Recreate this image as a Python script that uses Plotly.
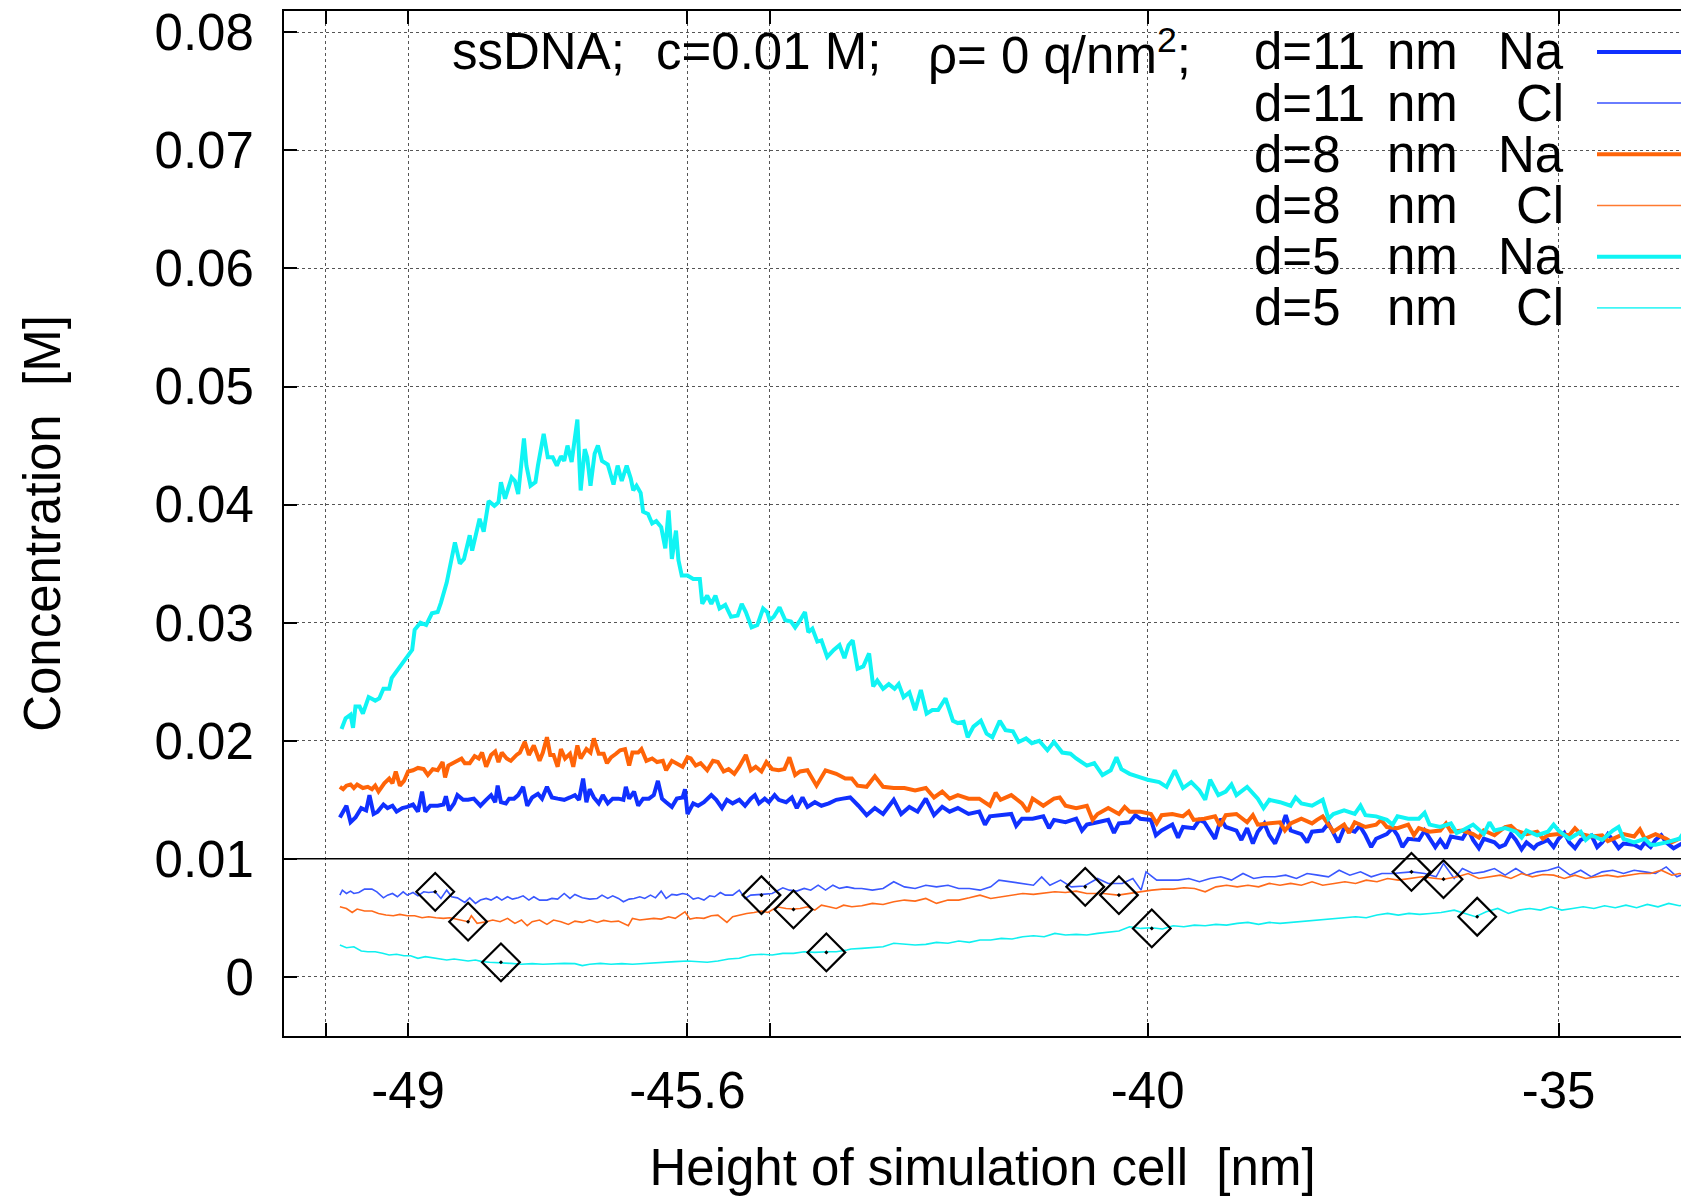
import plotly.graph_objects as go

# ---------------- data ----------------
d11_na = [(-49.83,.0135),(-49.79,.0140),(-49.75,.0145),(-49.70,.0131),(-49.64,.0135),(-49.57,.0143),(-49.51,.0141),(-49.47,.0154),(-49.42,.0138),(-49.37,.0140),(-49.30,.0146),(-49.25,.0143),(-49.19,.0145),(-49.14,.0140),(-49.07,.0143),(-49.01,.0144),(-48.94,.0146),(-48.88,.0140),(-48.83,.0157),(-48.79,.0140),(-48.73,.0145),(-48.64,.0145),(-48.57,.0146),(-48.54,.0153),(-48.50,.0141),(-48.44,.0147),(-48.40,.0154),(-48.33,.0150),(-48.27,.0150),(-48.20,.0151),(-48.16,.0148),(-48.12,.0145),(-48.05,.0150),(-47.99,.0154),(-47.94,.0148),(-47.91,.0162),(-47.87,.0148),(-47.81,.0147),(-47.77,.0151),(-47.71,.0151),(-47.66,.0154),(-47.60,.0161),(-47.55,.0145),(-47.49,.0152),(-47.42,.0155),(-47.37,.0151),(-47.31,.0161),(-47.25,.0152),(-47.18,.0151),(-47.10,.0150),(-47.03,.0152),(-46.97,.0154),(-46.92,.0150),(-46.87,.0168),(-46.83,.0148),(-46.79,.0159),(-46.74,.0152),(-46.68,.0147),(-46.63,.0154),(-46.57,.0147),(-46.51,.0151),(-46.44,.0151),(-46.38,.0150),(-46.35,.0161),(-46.31,.0151),(-46.25,.0157),(-46.20,.0145),(-46.14,.0151),(-46.07,.0151),(-46.01,.0154),(-45.96,.0166),(-45.91,.0151),(-45.86,.0148),(-45.79,.0144),(-45.73,.0151),(-45.66,.0152),(-45.63,.0159),(-45.60,.0138),(-45.53,.0147),(-45.47,.0145),(-45.40,.0148),(-45.31,.0154),(-45.25,.0150),(-45.18,.0143),(-45.12,.0150),(-45.05,.0147),(-44.97,.0150),(-44.90,.0145),(-44.83,.0151),(-44.78,.0154),(-44.73,.0147),(-44.66,.0151),(-44.61,.0148),(-44.54,.0154),(-44.49,.0150),(-44.40,.0148),(-44.33,.0152),(-44.27,.0143),(-44.20,.0152),(-44.14,.0144),(-44.05,.0148),(-43.97,.0145),(-43.88,.0147),(-43.79,.0150),(-43.71,.0151),(-43.62,.0152),(-43.52,.0145),(-43.42,.0137),(-43.32,.0143),(-43.22,.0138),(-43.09,.0150),(-43.00,.0138),(-42.90,.0144),(-42.80,.0140),(-42.70,.0151),(-42.60,.0137),(-42.50,.0144),(-42.41,.0140),(-42.31,.0143),(-42.18,.0138),(-42.05,.0140),(-41.98,.0129),(-41.92,.0136),(-41.79,.0137),(-41.66,.0138),(-41.60,.0128),(-41.53,.0134),(-41.40,.0134),(-41.27,.0136),(-41.20,.0126),(-41.14,.0133),(-41.00,.0131),(-40.87,.0134),(-40.80,.0124),(-40.74,.0129),(-40.61,.0131),(-40.48,.0133),(-40.41,.0122),(-40.35,.0130),(-40.22,.0131),(-40.15,.0137),(-40.09,.0134),(-39.96,.0133),(-39.90,.0120),(-39.83,.0124),(-39.70,.0129),(-39.63,.0118),(-39.57,.0127),(-39.44,.0126),(-39.37,.0133),(-39.31,.0131),(-39.18,.0117),(-39.11,.0134),(-39.05,.0127),(-38.92,.0124),(-38.86,.0116),(-38.79,.0126),(-38.72,.0113),(-38.66,.0123),(-38.58,.0130),(-38.52,.0120),(-38.45,.0113),(-38.39,.0123),(-38.32,.0137),(-38.26,.0124),(-38.13,.0121),(-38.06,.0114),(-38.00,.0123),(-37.87,.0124),(-37.80,.0130),(-37.74,.0121),(-37.68,.0114),(-37.61,.0126),(-37.48,.0123),(-37.42,.0128),(-37.35,.0120),(-37.28,.0110),(-37.22,.0117),(-37.09,.0121),(-37.02,.0126),(-36.96,.0120),(-36.90,.0110),(-36.83,.0117),(-36.70,.0116),(-36.63,.0124),(-36.57,.0117),(-36.50,.0110),(-36.44,.0116),(-36.37,.0109),(-36.31,.0119),(-36.17,.0117),(-36.10,.0125),(-36.04,.0116),(-35.97,.0109),(-35.91,.0117),(-35.78,.0114),(-35.72,.0110),(-35.65,.0112),(-35.58,.0121),(-35.52,.0116),(-35.45,.0108),(-35.39,.0114),(-35.30,.0109),(-35.26,.0112),(-35.13,.0116),(-35.06,.0110),(-35.00,.0117),(-34.93,.0122),(-34.87,.0114),(-34.80,.0109),(-34.73,.0116),(-34.60,.0120),(-34.53,.0110),(-34.47,.0114),(-34.40,.0121),(-34.34,.0116),(-34.27,.0109),(-34.21,.0113),(-34.08,.0112),(-34.00,.0109),(-33.95,.0114),(-33.88,.0110),(-33.82,.0116),(-33.75,.0120),(-33.69,.0114),(-33.60,.0109),(-33.53,.0112),(-33.45,.0115)]

d11_cl = [(-49.83,.00693),(-49.80,.00735),(-49.75,.00707),(-49.70,.00727),(-49.66,.00707),(-49.60,.00715),(-49.53,.00744),(-49.44,.00744),(-49.38,.00721),(-49.30,.0067),(-49.25,.00693),(-49.19,.00707),(-49.13,.00679),(-49.06,.00721),(-49.01,.00693),(-48.94,.00715),(-48.88,.00687),(-48.81,.00721),(-48.75,.00715),(-48.67,.00721),(-48.60,.00665),(-48.53,.00735),(-48.47,.00679),(-48.40,.0067),(-48.31,.00631),(-48.25,.0067),(-48.18,.00623),(-48.12,.00651),(-48.05,.00665),(-47.99,.00651),(-47.92,.00679),(-47.86,.00651),(-47.79,.00679),(-47.73,.00659),(-47.66,.0067),(-47.60,.00687),(-47.53,.00651),(-47.47,.00679),(-47.40,.00651),(-47.31,.00651),(-47.25,.00665),(-47.18,.00659),(-47.10,.00707),(-47.03,.00665),(-46.97,.00699),(-46.88,.0067),(-46.79,.00659),(-46.70,.00665),(-46.64,.00693),(-46.57,.00665),(-46.51,.00687),(-46.44,.00665),(-46.38,.00637),(-46.31,.00659),(-46.25,.00665),(-46.18,.00679),(-46.12,.00665),(-46.05,.00693),(-45.99,.0067),(-45.92,.00727),(-45.86,.00665),(-45.79,.00699),(-45.73,.00693),(-45.66,.00707),(-45.60,.00699),(-45.53,.00659),(-45.47,.0067),(-45.40,.00651),(-45.33,.00687),(-45.27,.00679),(-45.20,.00715),(-45.14,.00693),(-45.05,.00693),(-44.97,.00735),(-44.90,.00665),(-44.83,.00693),(-44.70,.00699),(-44.57,.00707),(-44.44,.00755),(-44.36,.00735),(-44.27,.00727),(-44.18,.0075),(-44.10,.00735),(-44.01,.00777),(-43.92,.00735),(-43.83,.00777),(-43.75,.0075),(-43.66,.00763),(-43.57,.0075),(-43.48,.00749),(-43.35,.00735),(-43.22,.00749),(-43.09,.00806),(-42.96,.00763),(-42.83,.00749),(-42.70,.00777),(-42.57,.00763),(-42.43,.00777),(-42.30,.00749),(-42.17,.00749),(-42.04,.00735),(-41.91,.00763),(-41.81,.0082),(-41.65,.00806),(-41.52,.00792),(-41.39,.00777),(-41.29,.00848),(-41.19,.00777),(-41.06,.0082),(-40.93,.00763),(-40.77,.00770),(-40.61,.00834),(-40.48,.00792),(-40.31,.00792),(-40.18,.00834),(-40.08,.00735),(-40.02,.0089),(-39.89,.0082),(-39.76,.0082),(-39.63,.0082),(-39.50,.00834),(-39.37,.00806),(-39.24,.00834),(-39.11,.00848),(-38.98,.0082),(-38.84,.00876),(-38.71,.00834),(-38.58,.00848),(-38.45,.00848),(-38.32,.00862),(-38.19,.00834),(-38.06,.00876),(-37.93,.00862),(-37.80,.00848),(-37.67,.00904),(-37.54,.00862),(-37.41,.0089),(-37.28,.00848),(-37.15,.00876),(-37.02,.00876),(-36.79,.0089),(-36.63,.00876),(-36.49,.00848),(-36.40,.00961),(-36.27,.00834),(-36.17,.00918),(-36.04,.00876),(-35.91,.0089),(-35.78,.00918),(-35.65,.00862),(-35.52,.00918),(-35.39,.00862),(-35.26,.0089),(-35.13,.00904),(-35.00,.00932),(-34.86,.00862),(-34.73,.00904),(-34.60,.00848),(-34.47,.0089),(-34.34,.00904),(-34.21,.00876),(-34.08,.00904),(-33.95,.0089),(-33.82,.00876),(-33.69,.00932),(-33.56,.00848),(-33.45,.0088)]

d8_na = [(-49.83,.0161),(-49.79,.0159),(-49.75,.0162),(-49.70,.0163),(-49.66,.0160),(-49.62,.0163),(-49.55,.0160),(-49.49,.0161),(-49.44,.0159),(-49.40,.0162),(-49.36,.0157),(-49.29,.0164),(-49.23,.0168),(-49.19,.0164),(-49.15,.0174),(-49.10,.0162),(-49.05,.0166),(-49.00,.0174),(-48.94,.0175),(-48.88,.0177),(-48.81,.0176),(-48.76,.0171),(-48.70,.0176),(-48.64,.0175),(-48.58,.0182),(-48.55,.0169),(-48.51,.0179),(-48.44,.0182),(-48.40,.0183),(-48.35,.0185),(-48.31,.0181),(-48.25,.0181),(-48.19,.0187),(-48.14,.0185),(-48.10,.0190),(-48.05,.0178),(-47.99,.0188),(-47.94,.0191),(-47.90,.0182),(-47.86,.0190),(-47.80,.0185),(-47.75,.0183),(-47.68,.0188),(-47.64,.0190),(-47.58,.0199),(-47.53,.0188),(-47.47,.0196),(-47.40,.0183),(-47.36,.0190),(-47.31,.0203),(-47.27,.0188),(-47.23,.0188),(-47.18,.0178),(-47.14,.0193),(-47.09,.0185),(-47.03,.0189),(-46.99,.0178),(-46.94,.0196),(-46.90,.0185),(-46.83,.0193),(-46.78,.0190),(-46.74,.0202),(-46.68,.0189),(-46.62,.0189),(-46.58,.0181),(-46.53,.0186),(-46.47,.0189),(-46.42,.0192),(-46.36,.0193),(-46.31,.0179),(-46.27,.0190),(-46.20,.0190),(-46.16,.0193),(-46.10,.0183),(-46.03,.0185),(-45.97,.0182),(-45.90,.0183),(-45.86,.0175),(-45.79,.0183),(-45.73,.0181),(-45.66,.0178),(-45.60,.0186),(-45.56,.0185),(-45.50,.0179),(-45.44,.0181),(-45.36,.0175),(-45.29,.0183),(-45.23,.0182),(-45.16,.0174),(-45.10,.0176),(-45.03,.0172),(-44.97,.0178),(-44.89,.0188),(-44.83,.0175),(-44.77,.0178),(-44.70,.0174),(-44.64,.0182),(-44.57,.0176),(-44.49,.0175),(-44.42,.0176),(-44.36,.0186),(-44.29,.0171),(-44.23,.0174),(-44.14,.0175),(-44.03,.0162),(-43.92,.0175),(-43.79,.0172),(-43.68,.0168),(-43.60,.0168),(-43.53,.0162),(-43.42,.0161),(-43.32,.0170),(-43.22,.0161),(-43.09,.0160),(-42.96,.0160),(-42.83,.0158),(-42.70,.0160),(-42.60,.0152),(-42.50,.0157),(-42.41,.0151),(-42.31,.0154),(-42.18,.0151),(-42.05,.0151),(-41.92,.0145),(-41.85,.0156),(-41.79,.0150),(-41.66,.0154),(-41.53,.0147),(-41.46,.0140),(-41.40,.0151),(-41.27,.0145),(-41.14,.0151),(-41.07,.0152),(-41.00,.0145),(-40.87,.0143),(-40.74,.0145),(-40.67,.0133),(-40.61,.0138),(-40.48,.0143),(-40.35,.0138),(-40.28,.0144),(-40.22,.0140),(-40.09,.0140),(-39.96,.0138),(-39.89,.0130),(-39.83,.0137),(-39.70,.0138),(-39.57,.0136),(-39.50,.0140),(-39.44,.0133),(-39.31,.0134),(-39.18,.0136),(-39.12,.0128),(-39.05,.0137),(-38.92,.0138),(-38.79,.0131),(-38.72,.0137),(-38.66,.0129),(-38.52,.0130),(-38.39,.0131),(-38.33,.0124),(-38.26,.0130),(-38.13,.0134),(-38.00,.0130),(-37.94,.0133),(-37.87,.0136),(-37.74,.0123),(-37.61,.0129),(-37.55,.0122),(-37.48,.0131),(-37.35,.0127),(-37.22,.0129),(-37.16,.0133),(-37.09,.0127),(-36.96,.0126),(-36.83,.0129),(-36.76,.0120),(-36.70,.0126),(-36.57,.0123),(-36.44,.0124),(-36.37,.0130),(-36.31,.0123),(-36.17,.0124),(-36.04,.0121),(-35.97,.0118),(-35.91,.0124),(-35.78,.0120),(-35.65,.0127),(-35.58,.0128),(-35.52,.0124),(-35.39,.0121),(-35.26,.0123),(-35.19,.0117),(-35.13,.0120),(-35.00,.0121),(-34.87,.0120),(-34.80,.0126),(-34.73,.0121),(-34.60,.0119),(-34.47,.0120),(-34.40,.0115),(-34.34,.0117),(-34.21,.0121),(-34.08,.0119),(-34.01,.0125),(-33.95,.0117),(-33.82,.0121),(-33.69,.0117),(-33.62,.0114),(-33.53,.0117),(-33.45,.0119)]

d8_cl = [(-49.83,.00594),(-49.75,.0058),(-49.68,.00546),(-49.62,.00575),(-49.53,.00558),(-49.44,.00558),(-49.36,.00538),(-49.27,.00524),(-49.18,.00518),(-49.10,.0053),(-49.01,.00518),(-48.92,.00518),(-48.83,.00501),(-48.75,.0051),(-48.66,.00501),(-48.57,.00496),(-48.49,.00501),(-48.38,.00482),(-48.27,.00468),(-48.23,.00518),(-48.16,.00454),(-48.05,.00468),(-47.97,.00482),(-47.88,.00468),(-47.79,.00496),(-47.70,.00454),(-47.62,.00482),(-47.55,.00434),(-47.49,.00468),(-47.40,.00482),(-47.31,.00445),(-47.23,.00482),(-47.14,.00468),(-47.05,.00445),(-46.97,.00473),(-46.88,.00462),(-46.79,.00482),(-46.70,.00462),(-46.62,.00479),(-46.53,.00468),(-46.44,.00473),(-46.32,.00434),(-46.27,.00496),(-46.18,.00482),(-46.10,.0049),(-46.01,.00496),(-45.92,.0049),(-45.83,.0051),(-45.75,.00496),(-45.68,.0053),(-45.63,.00552),(-45.57,.0049),(-45.49,.00501),(-45.40,.00496),(-45.31,.00518),(-45.23,.00524),(-45.12,.00462),(-45.05,.0051),(-44.97,.00524),(-44.88,.00538),(-44.79,.00546),(-44.70,.00558),(-44.62,.00546),(-44.51,.00594),(-44.40,.0058),(-44.31,.00575),(-44.23,.0058),(-44.14,.00594),(-44.05,.00566),(-43.97,.00608),(-43.88,.00594),(-43.79,.0058),(-43.70,.00608),(-43.60,.00594),(-43.48,.00603),(-43.35,.00623),(-43.22,.00614),(-43.09,.00637),(-42.96,.00651),(-42.83,.00642),(-42.70,.00665),(-42.57,.00623),(-42.43,.00651),(-42.30,.00651),(-42.17,.0067),(-42.04,.00693),(-41.91,.00665),(-41.78,.00679),(-41.65,.00693),(-41.52,.00707),(-41.39,.00699),(-41.26,.00707),(-41.13,.00721),(-41.00,.00715),(-40.87,.00727),(-40.74,.00707),(-40.54,.00707),(-40.36,.00693),(-40.22,.00707),(-40.08,.00727),(-39.95,.00735),(-39.82,.00744),(-39.69,.00744),(-39.56,.00755),(-39.43,.00749),(-39.30,.00721),(-39.17,.00763),(-39.04,.00777),(-38.91,.00763),(-38.78,.00777),(-38.65,.00763),(-38.52,.00792),(-38.39,.00777),(-38.26,.00792),(-38.13,.00777),(-38.00,.00806),(-37.87,.00777),(-37.73,.00792),(-37.60,.00806),(-37.47,.00792),(-37.34,.0082),(-37.21,.00806),(-37.08,.00834),(-36.95,.0082),(-36.82,.00834),(-36.66,.00848),(-36.49,.00834),(-36.40,.00828),(-36.23,.00848),(-36.10,.00876),(-35.97,.00834),(-35.84,.00848),(-35.71,.00862),(-35.58,.00834),(-35.45,.00876),(-35.32,.00848),(-35.19,.00868),(-35.06,.00862),(-34.93,.00834),(-34.80,.00862),(-34.67,.00834),(-34.54,.00848),(-34.41,.00862),(-34.28,.00848),(-34.14,.00862),(-34.01,.00876),(-33.88,.00876),(-33.75,.00904),(-33.62,.00862),(-33.53,.00876),(-33.45,.0087)]

d5_na = [(-49.81,.0210),(-49.76,.0219),(-49.70,.0222),(-49.67,.0211),(-49.64,.0229),(-49.59,.0229),(-49.55,.0223),(-49.48,.0237),(-49.40,.0234),(-49.35,.0236),(-49.30,.0244),(-49.23,.0244),(-49.20,.0253),(-49.13,.0260),(-49.06,.0267),(-48.99,.0274),(-48.95,.0277),(-48.92,.0294),(-48.85,.0300),(-48.78,.0298),(-48.71,.0308),(-48.64,.0309),(-48.60,.0317),(-48.53,.0334),(-48.46,.0357),(-48.43,.0368),(-48.37,.0350),(-48.32,.0354),(-48.25,.0374),(-48.22,.0361),(-48.13,.0388),(-48.08,.0377),(-48.02,.0403),(-47.95,.0399),(-47.90,.0402),(-47.87,.0419),(-47.82,.0405),(-47.74,.0423),(-47.70,.0420),(-47.66,.0409),(-47.59,.0456),(-47.56,.0433),(-47.51,.0416),(-47.45,.0419),(-47.42,.0433),(-47.35,.0460),(-47.30,.0440),(-47.24,.0440),(-47.19,.0433),(-47.14,.0441),(-47.10,.0437),(-47.06,.0450),(-47.01,.0436),(-46.94,.0472),(-46.90,.0412),(-46.85,.0447),(-46.82,.0440),(-46.78,.0416),(-46.73,.0443),(-46.69,.0450),(-46.64,.0437),(-46.57,.0434),(-46.50,.0417),(-46.45,.0433),(-46.40,.0420),(-46.34,.0433),(-46.29,.0422),(-46.26,.0412),(-46.22,.0416),(-46.17,.0410),(-46.14,.0394),(-46.08,.0392),(-46.03,.0384),(-45.98,.0386),(-45.92,.0381),(-45.87,.0363),(-45.83,.0395),(-45.79,.0354),(-45.74,.0378),(-45.71,.0353),(-45.67,.0340),(-45.60,.0340),(-45.53,.0337),(-45.45,.0337),(-45.42,.0316),(-45.36,.0323),(-45.31,.0316),(-45.26,.0323),(-45.21,.0312),(-45.14,.0315),(-45.07,.0305),(-44.99,.0306),(-44.94,.0316),(-44.89,.0309),(-44.82,.0296),(-44.75,.0298),(-44.68,.0312),(-44.63,.0309),(-44.60,.0302),(-44.55,.0305),(-44.48,.0313),(-44.41,.0302),(-44.34,.0301),(-44.29,.0296),(-44.23,.0302),(-44.17,.0309),(-44.13,.0292),(-44.08,.0295),(-44.02,.0284),(-43.97,.0285),(-43.90,.0271),(-43.82,.0277),(-43.75,.0281),(-43.69,.0270),(-43.64,.0281),(-43.59,.0285),(-43.53,.0261),(-43.46,.0263),(-43.39,.0274),(-43.34,.0246),(-43.29,.0251),(-43.22,.0244),(-43.15,.0248),(-43.08,.0244),(-43.03,.0248),(-42.97,.0237),(-42.90,.0241),(-42.83,.0226),(-42.76,.0243),(-42.69,.0223),(-42.62,.0226),(-42.55,.0226),(-42.46,.0236),(-42.37,.0217),(-42.31,.0215),(-42.24,.0216),(-42.19,.0203),(-42.12,.0212),(-42.03,.0217),(-41.96,.0206),(-41.89,.0203),(-41.80,.0217),(-41.73,.0209),(-41.64,.0208),(-41.57,.0199),(-41.48,.0202),(-41.41,.0198),(-41.32,.0200),(-41.22,.0192),(-41.14,.0199),(-41.04,.0190),(-40.94,.0189),(-40.87,.0185),(-40.74,.0179),(-40.65,.0181),(-40.55,.0171),(-40.45,.0175),(-40.38,.0186),(-40.32,.0176),(-40.22,.0172),(-40.09,.0169),(-40.00,.0167),(-39.86,.0165),(-39.77,.0161),(-39.67,.0175),(-39.57,.0160),(-39.47,.0165),(-39.37,.0158),(-39.30,.0150),(-39.24,.0167),(-39.14,.0154),(-39.05,.0157),(-38.98,.0163),(-38.92,.0154),(-38.79,.0161),(-38.66,.0151),(-38.59,.0143),(-38.52,.0150),(-38.39,.0148),(-38.26,.0145),(-38.20,.0152),(-38.13,.0147),(-38.00,.0145),(-37.87,.0150),(-37.80,.0134),(-37.74,.0138),(-37.61,.0141),(-37.48,.0138),(-37.41,.0145),(-37.35,.0137),(-37.22,.0136),(-37.09,.0133),(-37.02,.0129),(-36.96,.0136),(-36.83,.0134),(-36.70,.0134),(-36.63,.0139),(-36.57,.0129),(-36.44,.0127),(-36.31,.0130),(-36.24,.0122),(-36.17,.0124),(-36.04,.0129),(-35.91,.0121),(-35.84,.0131),(-35.78,.0124),(-35.65,.0126),(-35.52,.0123),(-35.45,.0118),(-35.39,.0124),(-35.26,.0120),(-35.13,.0123),(-35.06,.0129),(-35.00,.0124),(-34.87,.0117),(-34.73,.0123),(-34.67,.0116),(-34.60,.0120),(-34.47,.0116),(-34.34,.0124),(-34.27,.0127),(-34.21,.0117),(-34.08,.0114),(-33.95,.0117),(-33.88,.0112),(-33.82,.0112),(-33.69,.0114),(-33.53,.0117),(-33.49,.0121),(-33.45,.0115)]

d5_cl = [(-49.83,.0027),(-49.75,.00248),(-49.66,.00256),(-49.57,.0022),(-49.49,.00214),(-49.40,.00214),(-49.31,.002),(-49.23,.00186),(-49.14,.00192),(-49.05,.0018),(-48.97,.0018),(-48.88,.00158),(-48.79,.00172),(-48.70,.00163),(-48.62,.00158),(-48.53,.00144),(-48.44,.00152),(-48.36,.00144),(-48.27,.00135),(-48.18,.00144),(-48.10,.0013),(-48.01,.00124),(-47.88,.00121),(-47.75,.00115),(-47.62,.00107),(-47.49,.00113),(-47.36,.00107),(-47.23,.00113),(-47.10,.00115),(-46.97,.00113),(-46.88,.00096),(-46.79,.00107),(-46.66,.00115),(-46.53,.00107),(-46.40,.00113),(-46.27,.00107),(-46.14,.00113),(-46.01,.00124),(-45.88,.00124),(-45.75,.0013),(-45.60,.00135),(-45.49,.0013),(-45.36,.00124),(-45.23,.00135),(-45.10,.00152),(-44.97,.00158),(-44.83,.00186),(-44.70,.00192),(-44.57,.00186),(-44.44,.002),(-44.31,.002),(-44.18,.00214),(-44.05,.00208),(-43.90,.00214),(-43.79,.00214),(-43.66,.00228),(-43.61,.00237),(-43.48,.00242),(-43.35,.00248),(-43.22,.00256),(-43.09,.00285),(-42.96,.00276),(-42.83,.0027),(-42.70,.00276),(-42.57,.00293),(-42.43,.00285),(-42.30,.00304),(-42.17,.00293),(-42.04,.00313),(-41.91,.00313),(-41.78,.00327),(-41.65,.00321),(-41.52,.00341),(-41.39,.00349),(-41.26,.00341),(-41.13,.00369),(-41.00,.00355),(-40.87,.00361),(-40.74,.00355),(-40.61,.00369),(-40.48,.00377),(-40.35,.00389),(-40.22,.00425),(-40.08,.00411),(-39.95,.00417),(-39.82,.00406),(-39.69,.00434),(-39.56,.00425),(-39.43,.00439),(-39.30,.00434),(-39.17,.00445),(-39.04,.00439),(-38.91,.00454),(-38.78,.00462),(-38.65,.00445),(-38.52,.00462),(-38.39,.00454),(-38.26,.00462),(-38.13,.00468),(-38.00,.00482),(-37.87,.0049),(-37.73,.00496),(-37.60,.00501),(-37.47,.0051),(-37.34,.00501),(-37.21,.00524),(-37.08,.00538),(-36.95,.00524),(-36.82,.00538),(-36.69,.0053),(-36.56,.00538),(-36.43,.00546),(-36.27,.00566),(-36.14,.00538),(-36.01,.0051),(-35.88,.00552),(-35.74,.0058),(-35.61,.00538),(-35.48,.00566),(-35.35,.0058),(-35.22,.00566),(-35.09,.00594),(-34.96,.00566),(-34.83,.0058),(-34.70,.00594),(-34.57,.0058),(-34.44,.00603),(-34.31,.00586),(-34.18,.00608),(-34.05,.00586),(-33.92,.00614),(-33.79,.00594),(-33.66,.00623),(-33.53,.00603),(-33.45,.0061)]

# point markers on the Cl curves
d11_cl_pts_x = [-48.67, -44.70, -40.76, -36.79]
d11_cl_pts_y = [0.00721, 0.00693, 0.00763, 0.00890]
d8_cl_pts_x = [-48.27, -44.31, -40.35, -36.40]
d8_cl_pts_y = [0.00468, 0.00572, 0.00693, 0.00828]
d5_cl_pts_x = [-47.87, -43.91, -39.95, -35.99]
d5_cl_pts_y = [0.00124, 0.00208, 0.00411, 0.00510]

x_tick_vals = [-50, -49, -45.6, -44.6, -40, -35]
x_tick_text = ["", "-49", "-45.6", "", "-40", "-35"]
y_tick_vals = [0, 0.01, 0.02, 0.03, 0.04, 0.05, 0.06, 0.07, 0.08]
y_tick_text = ["0", "0.01", "0.02", "0.03", "0.04", "0.05", "0.06", "0.07", "0.08"]

legend_dist = ["d=11", "d=11", "d=8", "d=8", "d=5", "d=5"]
legend_unit = ["nm"] * 6
legend_ion = ["Na", "Cl", "Na", "Cl", "Na", "Cl"]
header_parts = ["ssDNA;", "c=0.01 M;", "\u03c1= 0 q/nm<sup>2</sup>;"]

# ---------------- layout constants ----------------
W, H = 1681, 1196
ML, MR, MT, MB = 284, 0, 11, 158
FONT = "Liberation Sans, Arial, Helvetica, sans-serif"
FS = 51

def px_x(px):
    return (px - ML) / (W - ML - MR)

def px_y(py):
    return 1 - (py - MT) / (H - MT - MB)

BLUE, BLUE_L = "#1030ff", "#3a58ff"
ORANGE, ORANGE_L = "#ff6408", "#ff6a1a"
CYAN, CYAN_L = "#10f4f4", "#10f0f0"
NA_W, CL_W = 4.0, 1.6

series = [
    (d11_na, BLUE, NA_W),
    (d11_cl, BLUE_L, CL_W),
    (d8_na, ORANGE, NA_W),
    (d8_cl, ORANGE_L, CL_W),
    (d5_na, CYAN, NA_W),
    (d5_cl, CYAN_L, CL_W),
]

fig = go.Figure()
names = [f"{a} {b} {c}" for a, b, c in zip(legend_dist, legend_unit, legend_ion)]
for (pts, col, lw), nm in zip(series, names):
    pts = sorted(pts)
    fig.add_trace(go.Scatter(
        x=[p[0] for p in pts], y=[p[1] for p in pts], mode="lines", name=nm,
        line=dict(color=col, width=lw), showlegend=False, hoverinfo="skip"))

for xs, ys in [(d11_cl_pts_x, d11_cl_pts_y), (d8_cl_pts_x, d8_cl_pts_y), (d5_cl_pts_x, d5_cl_pts_y)]:
    fig.add_trace(go.Scatter(
        x=xs, y=ys, mode="markers", showlegend=False, hoverinfo="skip",
        marker=dict(symbol="diamond-open-dot", size=29, color="black",
                    line=dict(color="black", width=2.2))))

# solid reference line at 0.01
fig.add_shape(type="line", xref="paper", x0=0, x1=1, yref="y", y0=0.01, y1=0.01,
              line=dict(color="black", width=1.5), layer="above")

# custom legend (right aligned gnuplot-style key)
row_y = [52, 103.3, 154.6, 205.9, 257.2, 308.5]
line_cols = [BLUE, "#6a7dff", ORANGE, "#ff7a30", CYAN, "#40f6f6"]
line_w = [NA_W, 2.0, NA_W, 1.6, NA_W, 1.6]
for i in range(6):
    yp = px_y(row_y[i])
    fig.add_annotation(x=px_x(1252), y=yp, xref="paper", yref="paper", text=legend_dist[i],
                       showarrow=False, xanchor="left", yanchor="middle",
                       font=dict(family=FONT, size=FS, color="black"))
    fig.add_annotation(x=px_x(1385), y=yp, xref="paper", yref="paper", text=legend_unit[i],
                       showarrow=False, xanchor="left", yanchor="middle",
                       font=dict(family=FONT, size=FS, color="black"))
    fig.add_annotation(x=px_x(1566), y=yp, xref="paper", yref="paper", text=legend_ion[i],
                       showarrow=False, xanchor="right", yanchor="middle",
                       font=dict(family=FONT, size=FS, color="black"))
    fig.add_shape(type="line", xref="paper", yref="paper", x0=px_x(1597), x1=1.0,
                  y0=yp, y1=yp, line=dict(color=line_cols[i], width=line_w[i]))

header_x = [450, 654, 926]
for txt, hx in zip(header_parts, header_x):
    fig.add_annotation(x=px_x(hx), y=px_y(row_y[0]), xref="paper", yref="paper", text=txt,
                       showarrow=False, xanchor="left", yanchor="middle",
                       font=dict(family=FONT, size=FS, color="black"))

fig.update_xaxes(
    range=[-50.51, -33.51], tickvals=x_tick_vals, ticktext=x_tick_text,
    ticks="inside", ticklen=13, tickwidth=2, tickcolor="black",
    showline=True, linecolor="black", linewidth=2, mirror="ticks",
    showgrid=True, gridcolor="#555555", griddash="dot", gridwidth=1,
    zeroline=False, ticklabelstandoff=9,
    tickfont=dict(family=FONT, size=FS, color="black"),
    title=dict(text="Height of simulation cell\u00a0\u00a0[nm]", standoff=41,
               font=dict(family=FONT, size=FS, color="black")))
fig.update_yaxes(
    range=[-0.005, 0.0818], tickvals=y_tick_vals, ticktext=y_tick_text,
    ticks="inside", ticklen=13, tickwidth=2, tickcolor="black",
    showline=True, linecolor="black", linewidth=2, mirror=False,
    showgrid=True, gridcolor="#555555", griddash="dot", gridwidth=1,
    zeroline=False, ticklabelstandoff=18,
    tickfont=dict(family=FONT, size=FS, color="black"),
    title=dict(text="Concentration\u00a0\u00a0[M]", standoff=78,
               font=dict(family=FONT, size=FS, color="black")))

fig.update_layout(
    width=W, height=H, autosize=False,
    margin=dict(l=ML, r=MR, t=MT, b=MB, pad=0),
    paper_bgcolor="white", plot_bgcolor="white",
    font=dict(family=FONT, size=FS, color="black"),
    showlegend=False,
)

fig.write_html("out.html", config={"displayModeBar": False})
